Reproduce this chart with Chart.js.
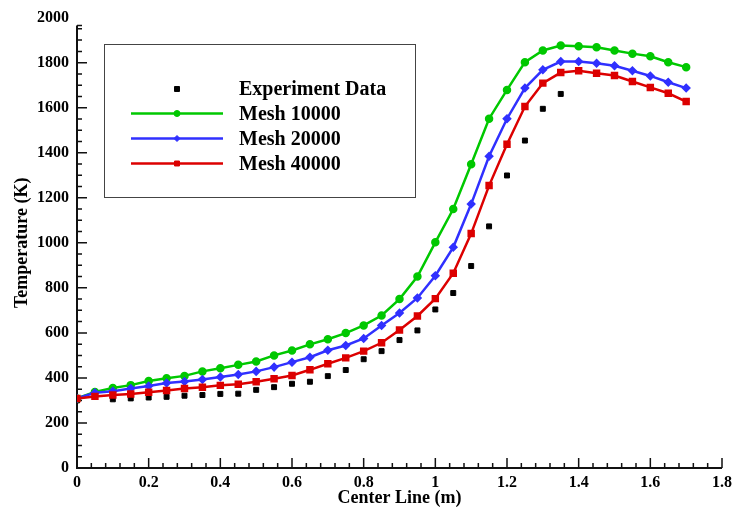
<!DOCTYPE html>
<html>
<head>
<meta charset="utf-8">
<script src="https://cdn.jsdelivr.net/npm/chart.js@4.4.1/dist/chart.umd.min.js"></script>
<style>
  html, body { margin: 0; padding: 0; background: #fff; }
</style>
</head>
<body>
<canvas id="myChart" width="737" height="514"></canvas>
<script>
// simulation points along the center line (m)
const meshX = [0, 0.05, 0.1, 0.15, 0.2, 0.25, 0.3, 0.35, 0.4, 0.45, 0.5, 0.55, 0.6, 0.65, 0.7, 0.75, 0.8, 0.85,
  0.9, 0.95, 1.0, 1.05, 1.1, 1.15, 1.2, 1.25, 1.3, 1.35, 1.4, 1.45, 1.5, 1.55, 1.6, 1.65, 1.7];
const mesh10000 = [309, 338, 355, 368, 386, 399, 409, 429, 443, 458, 473, 500, 522, 549, 572, 599, 633, 677,
  750, 850, 1002, 1150, 1349, 1551, 1679, 1802, 1854, 1876, 1873, 1868, 1854, 1840, 1828, 1802, 1780];
const mesh20000 = [309, 334, 341, 353, 364, 377, 384, 393, 404, 415, 429, 448, 470, 492, 523, 544, 575, 633,
  688, 755, 854, 980, 1172, 1384, 1551, 1687, 1768, 1805, 1805, 1797, 1786, 1764, 1741, 1713, 1687];
const mesh40000 = [309, 318, 324, 329, 336, 344, 353, 359, 367, 372, 383, 396, 411, 436, 463, 489, 519, 556,
  613, 675, 752, 865, 1041, 1254, 1438, 1605, 1709, 1756, 1764, 1753, 1743, 1716, 1690, 1664, 1627];

// experiment
const expX = [0, 0.1, 0.15, 0.2, 0.25, 0.3, 0.35, 0.4, 0.45, 0.5, 0.55, 0.6, 0.65, 0.7, 0.75, 0.8, 0.85,
  0.9, 0.95, 1.0, 1.05, 1.1, 1.15, 1.2, 1.25, 1.3, 1.35];
const expData = [300, 305, 309, 313, 316, 321, 324, 329, 330, 347, 359, 374, 383, 408, 435, 483, 519,
  568, 611, 704, 777, 897, 1073, 1299, 1454, 1595, 1661];

const xTickValues = [0, 0.2, 0.4, 0.6, 0.8, 1, 1.2, 1.4, 1.6, 1.8];
const xTickLabels = ['0', '0.2', '0.4', '0.6', '0.8', '1', '1.2', '1.4', '1.6', '1.8'];
const yTickValues = [0, 200, 400, 600, 800, 1000, 1200, 1400, 1600, 1800, 2000];
const yTickLabels = ['0', '200', '400', '600', '800', '1000', '1200', '1400', '1600', '1800', '2000'];

const serif = "'Liberation Serif', 'Times New Roman', serif";

function toPoints(xs, ys) {
  return xs.map((x, i) => ({ x: x, y: ys[i] }));
}

// tecplot style axes: ticks pointing inward, minor ticks in between
const tecplotAxes = {
  id: 'tecplotAxes',
  beforeDatasetsDraw(chart) {
    const { ctx, scales: { x, y } } = chart;
    const x0 = x.getPixelForValue(0);
    const y0 = y.getPixelForValue(0);
    const yTop = y.getPixelForValue(1965);
    ctx.save();
    ctx.strokeStyle = '#111';
    ctx.lineWidth = 2;
    ctx.beginPath();
    ctx.moveTo(x0, yTop);
    ctx.lineTo(x0, y0);
    ctx.lineTo(x.getPixelForValue(1.8), y0);
    ctx.stroke();

    ctx.lineWidth = 1.5;
    ctx.beginPath();
    for (let k = 1; k <= 45; k++) {
      const px = x.getPixelForValue(k * 0.04);
      const len = k % 5 === 0 ? 10 : 5;
      ctx.moveTo(px, y0);
      ctx.lineTo(px, y0 - len);
    }
    for (let k = 1; k * 50 < 2000; k++) {
      const py = y.getPixelForValue(k * 50);
      const len = k % 4 === 0 ? 10 : 5;
      ctx.moveTo(x0, py);
      ctx.lineTo(x0 + len, py);
    }
    ctx.moveTo(x0, yTop);
    ctx.lineTo(x0 + 5, yTop);
    ctx.stroke();
    ctx.restore();
  }
};

function drawMarker(ctx, style, r, cx, cy) {
  ctx.beginPath();
  if (style === 'circle') {
    ctx.arc(cx, cy, r, 0, Math.PI * 2);
  } else if (style === 'rectRot') {
    ctx.moveTo(cx - r, cy);
    ctx.lineTo(cx, cy - r);
    ctx.lineTo(cx + r, cy);
    ctx.lineTo(cx, cy + r);
    ctx.closePath();
  } else {
    const s = r * Math.SQRT1_2;
    ctx.rect(cx - s, cy - s, 2 * s, 2 * s);
  }
  ctx.fill();
  ctx.stroke();
}

// boxed legend inside the plot
const boxLegend = {
  id: 'boxLegend',
  afterDraw(chart) {
    const ctx = chart.ctx;
    ctx.save();
    ctx.fillStyle = '#fff';
    ctx.fillRect(104.5, 44.5, 311, 153);
    ctx.strokeStyle = '#444';
    ctx.lineWidth = 1;
    ctx.strokeRect(104.5, 44.5, 311, 153);

    const rows = [89, 113.5, 138.5, 163.5];
    const order = [3, 0, 1, 2];
    ctx.font = 'bold 20px ' + serif;
    ctx.textBaseline = 'middle';
    order.forEach((di, i) => {
      const ds = chart.data.datasets[di];
      const yy = rows[i];
      if (ds.showLine !== false) {
        ctx.strokeStyle = ds.borderColor;
        ctx.lineWidth = ds.borderWidth;
        ctx.beginPath();
        ctx.moveTo(131, yy);
        ctx.lineTo(223, yy);
        ctx.stroke();
      }
      ctx.fillStyle = ds.pointBackgroundColor;
      ctx.strokeStyle = ds.pointBorderColor;
      ctx.lineWidth = 1;
      drawMarker(ctx, ds.pointStyle, ds.pointRadius, 177, yy);
      ctx.fillStyle = '#000';
      ctx.fillText(ds.label, 239, yy + 1);
    });
    ctx.restore();
  }
};

const ctx = document.getElementById('myChart').getContext('2d');
const chart = new Chart(ctx, {
  type: 'scatter',
  data: {
    datasets: [{
      label: 'Mesh 10000',
      data: toPoints(meshX, mesh10000),
      showLine: true,
      borderColor: '#00c800',
      borderWidth: 2.5,
      pointStyle: 'circle',
      pointRadius: 3,
      pointBackgroundColor: '#00c800',
      pointBorderColor: '#00c800',
      order: 3
    }, {
      label: 'Mesh 20000',
      data: toPoints(meshX, mesh20000),
      showLine: true,
      borderColor: '#3030ff',
      borderWidth: 2.5,
      pointStyle: 'rectRot',
      pointRadius: 3,
      pointBackgroundColor: '#3030ff',
      pointBorderColor: '#3030ff',
      order: 2
    }, {
      label: 'Mesh 40000',
      data: toPoints(meshX, mesh40000),
      showLine: true,
      borderColor: '#dc0000',
      borderWidth: 2.5,
      pointStyle: 'rect',
      pointRadius: 3.5,
      pointBackgroundColor: '#dc0000',
      pointBorderColor: '#dc0000',
      order: 1
    }, {
      label: 'Experiment Data',
      data: toPoints(expX, expData),
      showLine: false,
      pointStyle: 'rect',
      pointRadius: 3.5,
      pointBackgroundColor: '#000',
      pointBorderColor: '#000',
      order: 4
    }]
  },
  options: {
    responsive: false,
    animation: false,
    devicePixelRatio: 1,
    layout: { padding: { top: 16, right: 10, left: 0, bottom: 0 } },
    plugins: {
      legend: { display: false },
      tooltip: { enabled: false }
    },
    scales: {
      x: {
        type: 'linear',
        min: 0,
        max: 1.8,
        grid: { display: false, drawTicks: false },
        border: { display: false },
        afterBuildTicks: s => { s.ticks = xTickValues.map(v => ({ value: v })); },
        afterFit: s => { s.height = 46; },
        ticks: {
          autoSkip: false,
          maxRotation: 0,
          padding: 5,
          color: '#000',
          font: { family: serif, size: 16, weight: 'bold' },
          callback: (v, i) => xTickLabels[i]
        },
        title: {
          display: true,
          text: 'Center Line (m)',
          color: '#000',
          font: { family: serif, size: 18, weight: 'bold' },
          padding: { top: 0, bottom: 5 }
        }
      },
      y: {
        type: 'linear',
        min: 0,
        max: 2000,
        grid: { display: false, drawTicks: false },
        border: { display: false },
        afterBuildTicks: s => { s.ticks = yTickValues.map(v => ({ value: v })); },
        afterFit: s => { s.width = 77; },
        ticks: {
          autoSkip: false,
          padding: 8,
          color: '#000',
          font: { family: serif, size: 16, weight: 'bold' },
          callback: (v, i) => yTickLabels[i]
        },
        title: {
          display: true,
          text: 'Temperature (K)',
          color: '#000',
          font: { family: serif, size: 18, weight: 'bold' },
          padding: { top: 12, bottom: 0 }
        }
      }
    }
  },
  plugins: [tecplotAxes, boxLegend]
});
</script>
</body>
</html>
